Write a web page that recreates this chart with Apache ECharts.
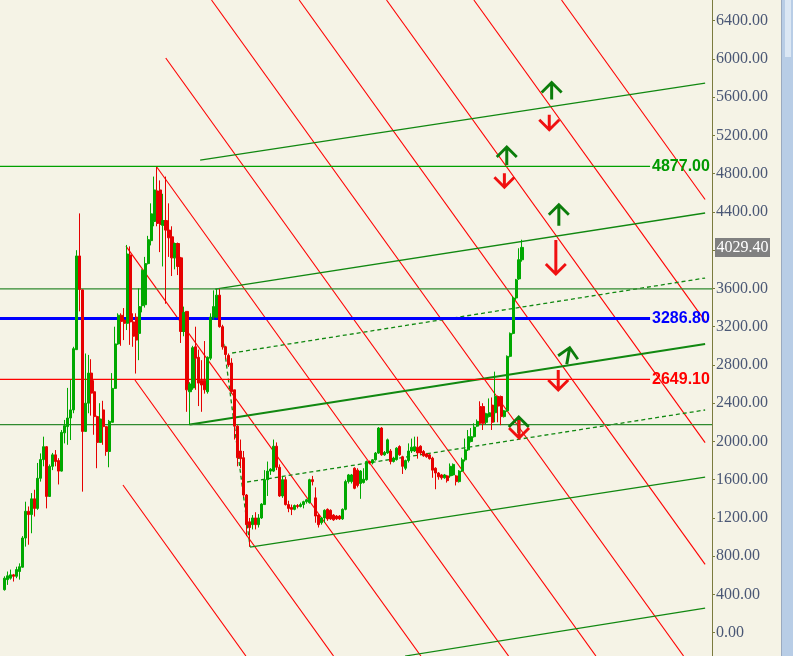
<!DOCTYPE html>
<html>
<head>
<meta charset="utf-8">
<script src="https://cdn.jsdelivr.net/npm/echarts@6/dist/echarts.min.js"></script>
<style>
  html, body { margin: 0; padding: 0; background: #f5f3e6; }
  #chart { width: 793px; height: 656px; }
</style>
</head>
<body>
<div id="chart"></div>
<script>
// candles, one per bar
const candleOpen = [450,555,570,605,590,640,685,990,1270,1235,1400,1300,1615,1810,1945,1425,1740,1860,1800,1690,
  2090,2155,2245,2330,2960,3940,3585,2105,2400,2715,2520,2260,1990,2330,2155,1895,2200,2555,3020,3320,
  3270,3235,3950,3250,3300,3130,3420,3430,3860,4100,4300,4620,4630,4260,4310,4210,4140,3920,4070,3920,
  3150,3360,2520,2560,2990,2880,2640,2640,2520,2870,3300,3300,3530,3200,2990,2900,2820,2540,2160,1900,
  1830,1440,1160,1130,1200,1130,1200,1340,1600,1690,1690,1950,1730,1430,1600,1340,1310,1290,1330,1320,
  1340,1370,1360,1600,1410,1230,1150,1200,1290,1280,1230,1220,1220,1190,1290,1580,1580,1720,1700,1560,
  1570,1600,1790,1775,1808,1878,2140,1860,1880,1900,1790,1810,1947,1840,1720,1800,1900,1900,1940,1950,
  1895,1870,1860,1825,1720,1670,1650,1620,1640,1640,1650,1640,1580,1690,1808,1912,2000,2050,2160,2365,
  2365,2200,2260,2380,2300,2470,2470,2260,2320,2890,3130,3500,3700,3900];
const candleClose = [570,595,605,590,660,690,990,1270,1235,1400,1300,1615,1810,1945,1425,1740,1860,1790,1690,2095,
  2165,2245,2330,2970,3940,3590,2105,2400,2715,2505,2260,1990,2235,2155,1895,2210,2555,3020,3320,3255,
  3235,3960,3250,3100,3060,3410,3790,3860,4110,4380,4630,4280,4270,4310,4210,4130,3920,4070,3830,3150,
  3350,2540,2600,2980,2870,2610,2590,2540,2880,3300,3410,3530,3200,2990,2910,2800,2520,2160,1830,1820,
  1440,1130,1100,1200,1130,1200,1345,1600,1690,1710,1950,1730,1430,1600,1340,1300,1290,1330,1320,1340,
  1370,1390,1600,1580,1220,1130,1200,1280,1190,1190,1180,1190,1190,1290,1580,1650,1650,1510,1540,1690,
  1605,1790,1775,1808,1878,2140,1860,1885,2017,1790,1826,1930,1860,1740,1800,1900,1940,1945,1880,1880,
  1850,1840,1820,1700,1670,1630,1620,1650,1590,1740,1760,1580,1690,1808,1912,2050,2050,2150,2210,2190,
  2190,2290,2300,2200,2470,2370,2260,2320,2890,3130,3500,3690,3900,4029.4];
const candleLow = [440,500,555,535,570,555,680,900,920,1040,1215,1285,1580,1740,1300,1420,1700,1740,1550,1685,
  1980,1965,2015,2295,2960,3360,1475,2100,2295,2270,2070,1720,1985,1965,1850,1730,2200,2550,3010,3000,
  3060,3165,3010,2990,2710,2850,3350,3400,3850,4050,4250,4250,3980,3830,3440,3930,3730,3800,3740,3030,
  3100,2310,2170,2540,2540,2370,2310,2500,2500,2850,3270,3290,3190,2960,2860,2780,2500,2020,1740,1720,
  1420,1010,900,1080,1080,1100,1190,1340,1430,1650,1680,1700,1420,1410,1330,1260,1230,1280,1300,1310,
  1300,1350,1350,1540,1150,1100,1130,1150,1170,1180,1170,1180,1180,1180,1280,1560,1560,1500,1520,1400,
  1560,1590,1760,1760,1800,1870,1850,1850,1870,1760,1780,1800,1850,1660,1700,1780,1880,1890,1820,1860,
  1840,1830,1810,1620,1500,1600,1600,1610,1570,1620,1640,1540,1570,1680,1790,1900,1990,2040,2150,2170,
  2120,2180,2250,2120,2200,2200,2170,2250,2310,2880,3120,3480,3690,3880];
const candleHigh = [590,640,660,615,690,725,1010,1370,1320,1460,1495,1775,1875,2050,1950,1760,1880,1910,1825,2120,
  2225,2560,2645,2990,4000,4385,3590,2920,2905,2860,2640,2270,2400,2425,2160,2225,2715,3200,3340,3340,
  3395,4055,4040,3340,3340,3600,3800,3930,4150,4490,4770,4870,4730,4590,4770,4490,4250,4080,4080,3930,
  3410,3360,2620,3000,3200,2960,2850,3050,2890,3340,3580,3595,3595,3220,3000,2920,2870,2540,2170,2020,
  1900,1450,1200,1230,1260,1240,1355,1700,1790,1720,2020,1990,1760,1640,1630,1380,1340,1340,1345,1360,
  1380,1400,1610,1640,1520,1240,1210,1290,1300,1290,1240,1230,1230,1300,1600,1660,1660,1730,1720,1700,
  1720,1800,1800,1815,1890,2150,2150,1900,2030,1920,1840,1940,1960,1850,1810,1980,2030,2050,2050,1960,
  1910,1880,1870,1840,1730,1680,1660,1660,1650,1770,1770,1650,1700,1830,2030,2120,2140,2190,2230,2420,
  2400,2300,2450,2460,2730,2480,2480,2330,2900,3140,3520,3700,4020,4110];

// horizontal levels
const levelValues = [4877, 3286.8, 2649.1];
const levelTexts = ['4877.00', '3286.80', '2649.10'];
const gridLevels = [3595, 2175];
const lastPrice = 4029.4;

// drawn lines, [bar index, price] end points
const redFanLines = [
  [[39.6, 1545], [80.7, -244]],
  [[43.6, 2643], [110.0, -244]],
  [[40.6, 4043], [139.2, -244]],
  [[50.9, 4870], [168.5, -244]],
  [[53.9, 6010], [197.7, -244]],
  [[69.2, 6616], [227.0, -244]],
  [[98.5, 6616], [234.2, 715]],
  [[127.7, 6616], [234.2, 1987]],
  [[156.9, 6616], [234.2, 3259]],
  [[186.2, 6616], [234.2, 4530]]
];
const greenSolidLines = [
  [[65.4, 4943], [234.2, 5748]],
  [[70.4, 3594], [234.2, 4389]],
  [[82.1, 896], [234.2, 1628]],
  [[133.9, -244], [234.2, 258]]
];
const greenThickLines = [
  [[62.0, 2177], [234.2, 3019]]
];
const greenDashedLines = [
  [[76.1, 2925], [234.2, 3709]],
  [[81.1, 1576], [234.2, 2329]],
  [[72.7, 3166], [82.1, 896]]
];

// arrow marks
const upArrows = [[182.9, 5675], [167.9, 4996], [185.3, 4376], [188.5, 2904], [171.9, 2182]];
const downArrows = [[182.1, 5327], [167.1, 4721], [184.3, 3918], [185.1, 2632], [172.0, 2120]];
const upSizes = [[22, 19], [22, 20], [22, 23], [22, 19], [22, 18]];
const upTilt = [0, 0, 0, -10, 0];
const downSizes = [[22, 17], [22, 16], [22, 36], [22, 22], [22, 20]];

const N_SLOTS = 238;
const categories = Array.from({ length: N_SLOTS }, (_, i) => String(i));
const candles = candleOpen.map((o, i) => [i + 1, o, candleClose[i], candleLow[i], candleHigh[i]]);

function arrowPath(w, h, up) {
  const pts = [[w / 2, 0], [w, w / 2], [w - 2, w / 2 + 2], [w / 2 + 1.5, 5.5], [w / 2 + 1.5, h],
    [w / 2 - 1.5, h], [w / 2 - 1.5, 5.5], [2, w / 2 + 2], [0, w / 2]];
  const p = up ? pts : pts.map(([x, y]) => [x, h - y]);
  return 'path://M' + p.map(q => q[0].toFixed(1) + ' ' + q[1].toFixed(1)).join(' L') + ' Z';
}

function seg(pts, color, width, type, z) {
  return {
    type: 'line', xAxisIndex: 1, yAxisIndex: 0, data: pts, symbol: 'none',
    silent: true, animation: false, z: z,
    lineStyle: { color: color, width: width, type: type || 'solid' }
  };
}

const series = [];
levelValues.forEach((v, i) => {
  const c = ['#00a000', '#0000ff', '#ff0000'][i];
  series.push(seg([[-1.5, v], [215.8, v]], c, i === 1 ? 3 : 1.2, 'solid', 3));
});
gridLevels.forEach(v => series.push(seg([[-1.5, v], [236.5, v]], '#2f8a2f', 1.2, 'solid', 3)));
redFanLines.forEach(l => series.push(seg(l, '#ff0000', 1.1, 'solid', 2)));
greenSolidLines.forEach(l => series.push(seg(l, '#118811', 1.3, 'solid', 2)));
greenThickLines.forEach(l => series.push(seg(l, '#118811', 2.2, 'solid', 2)));
greenDashedLines.forEach(l => series.push(seg(l, '#118811', 1.3, [4, 3], 2)));

series.push({
  type: 'candlestick', xAxisIndex: 0, yAxisIndex: 0, data: candles,
  encode: { x: 0, y: [1, 2, 3, 4] }, barWidth: 2.6, z: 5, silent: true, animation: false,
  itemStyle: { color: '#00a800', color0: '#e60000', borderColor: '#00a800', borderColor0: '#e60000', borderWidth: 1 }
});
series.push({
  type: 'scatter', xAxisIndex: 1, yAxisIndex: 0, silent: true, animation: false, z: 6,
  data: upArrows.map((p, i) => ({
    value: p, symbol: arrowPath(upSizes[i][0], upSizes[i][1], true),
    symbolSize: upSizes[i], symbolRotate: upTilt[i]
  })),
  itemStyle: { color: '#0b7d0b', opacity: 1 }
});
series.push({
  type: 'scatter', xAxisIndex: 1, yAxisIndex: 0, silent: true, animation: false, z: 6,
  data: downArrows.map((p, i) => ({
    value: p, symbol: arrowPath(downSizes[i][0], downSizes[i][1], false), symbolSize: downSizes[i]
  })),
  itemStyle: { color: '#f01010', opacity: 1 }
});

const chart = echarts.init(document.getElementById('chart'));
chart.setOption({
  backgroundColor: '#f5f3e6',
  animation: false,
  grid: { left: 0, right: 81, top: -17.55, bottom: -14.95, outerBoundsMode: 'none', containLabel: false },
  xAxis: [
    { type: 'category', data: categories, boundaryGap: true, show: false },
    { type: 'value', min: -1.5, max: N_SLOTS - 1.5, show: false }
  ],
  yAxis: {
    type: 'value', position: 'right', min: -400, max: 6800, interval: 400,
    axisLine: { show: true, onZero: false, lineStyle: { color: '#7b7b3f', width: 1 } },
    axisTick: { show: true, length: 3, lineStyle: { color: '#7b7b3f' } },
    axisLabel: {
      color: '#4a5775', fontFamily: 'Liberation Serif', fontSize: 16, margin: 4,
      formatter: v => (v === 4000 ? '' : v.toFixed(2))
    },
    splitLine: { show: false }
  },
  series: series
});

// level texts and last price tag
const toPx = (k, v) => chart.convertToPixel({ xAxisIndex: 1, yAxisIndex: 0 }, [k, v]);
const graphics = [];
levelValues.forEach((v, i) => {
  const p = toPx(215.8, v);
  graphics.push({
    type: 'text', x: p[0] + 2, y: p[1], z: 10,
    style: {
      text: levelTexts[i], fill: ['#009900', '#0000ff', '#ff0000'][i],
      font: 'bold 16px "Liberation Sans"', align: 'left', verticalAlign: 'middle'
    }
  });
});
const lp = toPx(236.5, lastPrice);
graphics.push({ type: 'rect', shape: { x: 715, y: lp[1] - 9.5, width: 55, height: 19 }, style: { fill: '#808080' }, z: 10 });
graphics.push({
  type: 'text', x: 742.5, y: lp[1], z: 11,
  style: { text: lastPrice.toFixed(2), fill: '#ffffff', font: '16px "Liberation Serif"', align: 'center', verticalAlign: 'middle' }
});
// scrollbar strip at the right edge
graphics.push({ type: 'rect', shape: { x: 782, y: 0, width: 11, height: 656 }, style: { fill: '#b8cde6' }, z: 10 });
graphics.push({ type: 'rect', shape: { x: 781, y: 0, width: 1, height: 656 }, style: { fill: '#9aaac0' }, z: 10 });
graphics.push({ type: 'rect', shape: { x: 785, y: 0, width: 6, height: 57 }, style: { fill: '#dbe7f4' }, z: 10 });
chart.setOption({ graphic: graphics });
</script>
</body>
</html>
